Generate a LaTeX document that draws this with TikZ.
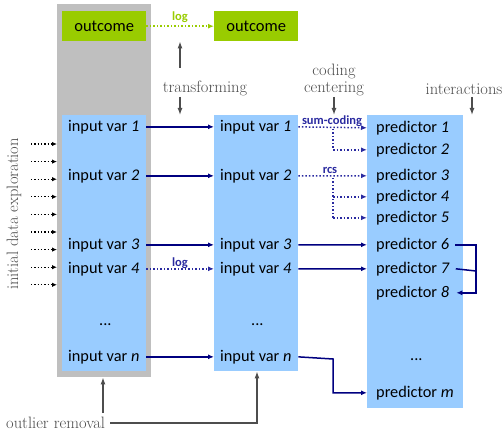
\documentclass[tikz,border=0pt]{standalone}
\usepackage{fontspec}
\newfontfamily\boxfont{Carlito}
\usetikzlibrary{arrows.meta,calc}
\definecolor{panelgray}{HTML}{BFBFBF}
\definecolor{outgreen}{HTML}{99CC00}
\definecolor{varblue}{HTML}{99CCFF}
\definecolor{linknavy}{HTML}{000080}
\definecolor{dotnavy}{HTML}{2A2AA0}
\definecolor{notegray}{HTML}{4D4D4D}
\begin{document}
\begin{tikzpicture}[x=1pt,y=-1pt,
  panel/.style={draw=none,anchor=north west,inner sep=0pt},
  vtext/.style={font=\boxfont\fontsize{16.3}{19}\selectfont,inner xsep=4pt,inner ysep=0pt,anchor=mid west},
  note/.style={font=\fontsize{16.5}{16.5}\selectfont,text=notegray,inner sep=1pt,align=center},
  tag/.style={font=\boxfont\bfseries\fontsize{12.5}{13}\selectfont,inner sep=0pt},
  solidlink/.style={draw=linknavy,line width=1.5pt,-{Latex[length=6pt,width=5pt]}},
  dotlink/.style={draw=dotnavy,line width=1.5pt,dotted,-{Latex[length=6pt,width=5pt]}},
  dotseg/.style={draw=dotnavy,line width=1.5pt,dotted},
  notearrow/.style={draw=notegray,line width=1.3pt,-{Latex[length=7pt,width=5pt]}},
  explore/.style={draw=black,line width=1.3pt,dotted,-{Latex[length=5pt,width=4.5pt]}}]
\useasboundingbox (0,0) rectangle (504,433);

% panels
\node[panel,fill=panelgray,minimum width=94pt,minimum height=373pt] (G) at (57,4) {};
\node[panel,fill=outgreen,minimum width=84pt,minimum height=30pt,font=\boxfont\fontsize{16.5}{19}\selectfont] (O1) at (62,11) {outcome};
\node[panel,fill=outgreen,minimum width=84pt,minimum height=30pt,font=\boxfont\fontsize{16.5}{19}\selectfont] (O2) at (214,11) {outcome};
\node[panel,fill=varblue,minimum width=84pt,minimum height=256pt] (B1) at (62,115) {};
\node[panel,fill=varblue,minimum width=84pt,minimum height=256pt] (B2) at (214,115) {};
\node[panel,fill=varblue,minimum width=96pt,minimum height=293pt] (B3) at (367,115) {};

% input variables, raw
\node[vtext] (a1) at (64,129) {input var \textit{1}};
\node[vtext] (a2) at (64,178) {input var \textit{2}};
\node[vtext] (a3) at (64,247) {input var \textit{3}};
\node[vtext] (a4) at (64,271) {input var \textit{4}};
\node[vtext] (ad) at (95,323) {...};
\node[vtext] (an) at (64,359) {input var \textit{n}};

% input variables, transformed
\node[vtext] (b1) at (216,129) {input var \textit{1}};
\node[vtext] (b2) at (216,178) {input var \textit{2}};
\node[vtext] (b3) at (216,247) {input var \textit{3}};
\node[vtext] (b4) at (216,271) {input var \textit{4}};
\node[vtext] (bd) at (247,323) {...};
\node[vtext] (bn) at (216,359) {input var \textit{n}};

% predictors
\node[vtext] (p1) at (372,130) {predictor \textit{1}};
\node[vtext] (p2) at (372,152) {predictor \textit{2}};
\node[vtext] (p3) at (372,178) {predictor \textit{3}};
\node[vtext] (p4) at (372,199) {predictor \textit{4}};
\node[vtext] (p5) at (372,220) {predictor \textit{5}};
\node[vtext] (p6) at (372,247) {predictor \textit{6}};
\node[vtext] (p7) at (372,271) {predictor \textit{7}};
\node[vtext] (p8) at (372,295) {predictor \textit{8}};
\node[vtext] (pd) at (406,358) {...};
\node[vtext] (pm) at (372,395) {predictor \textit{m}};

% outcome transformation
\draw[draw=outgreen,line width=1.5pt,dotted,-{Latex[length=6pt,width=5pt]}] (O1.east) -- (O2.west);
\node[tag,text=outgreen] (lg1) at (180,17) {log};

% raw -> transformed
\draw[solidlink] (a1.east -| B1.east) -- (b1.west -| B2.west);
\draw[solidlink] (a2.east -| B1.east) -- (b2.west -| B2.west);
\draw[solidlink] (a3.east -| B1.east) -- (b3.west -| B2.west);
\draw[dotlink] (a4.east -| B1.east) -- (b4.west -| B2.west);
\draw[solidlink] (an.east -| B1.east) -- (bn.west -| B2.west);
\node[tag,text=dotnavy] (lg2) at (180,263) {log};

% transformed -> predictors
\coordinate (s1) at (333,129);
\coordinate (s2) at (333,178);
\coordinate (sn) at (333,359);
\draw[dotlink] (b1.east -| B2.east) -- (p1.west -| B3.west);
\draw[dotseg] (s1) -- (s1 |- p2);
\draw[dotlink] (s1 |- p2) -- (p2.west -| B3.west);
\node[tag,text=dotnavy] (sc) at (332,121) {sum-coding};
\draw[dotlink] (b2.east -| B2.east) -- (p3.west -| B3.west);
\draw[dotseg] (s2) -- (s2 |- p5);
\draw[dotlink] (s2 |- p4) -- (p4.west -| B3.west);
\draw[dotlink] (s2 |- p5) -- (p5.west -| B3.west);
\node[tag,text=dotnavy] (rc) at (330,170) {rcs};
\draw[solidlink] (b3.east -| B2.east) -- (p6.west -| B3.west);
\draw[solidlink] (b4.east -| B2.east) -- (p7.west -| B3.west);
\draw[solidlink] (bn.east -| B2.east) -- (sn) |- (pm.west -| B3.west);

% interaction term
\coordinate (ix) at (476,271);
\draw[draw=linknavy,line width=1.5pt] ([xshift=2pt]p6.east) -| (ix);
\draw[draw=linknavy,line width=1.5pt] ([xshift=2pt]p7.east) -- (ix);
\draw[solidlink] (ix) |- ([xshift=3pt]p8.east);

% annotations
\node[note] (tr) at (205,88) {transforming};
\coordinate (tu) at (180,68);
\coordinate (td) at (180,97);
\draw[notearrow] (tu) -- (tu |- O2.south);
\draw[notearrow] (td) -- (td |- B2.north);
\node[note] (cc) at (334,80) {coding\\centering};
\coordinate (cd) at (334,97);
\draw[notearrow] (cd) -- (cd |- B3.north);
\node[note] (ia) at (464,89) {interactions};
\coordinate (id) at (472,97);
\draw[notearrow] (id) -- (id |- B3.north);

\node[note,rotate=90] (ide) at (14,214) {initial data exploration};
\foreach \i in {0,...,8} {
  \coordinate (e\i) at (31,{144+17.6*\i});
  \draw[explore] (e\i) -- (e\i -| G.west);
}

\node[note,anchor=west] (orm) at (5,423) {outlier removal};
\coordinate (ou) at (103,413);
\coordinate (oc) at (257,423);
\draw[notearrow] (ou) -- (ou |- G.south);
\draw[notearrow] ([xshift=4pt]orm.east) -- (oc) -- (oc |- B2.south);
\end{tikzpicture}
\end{document}
